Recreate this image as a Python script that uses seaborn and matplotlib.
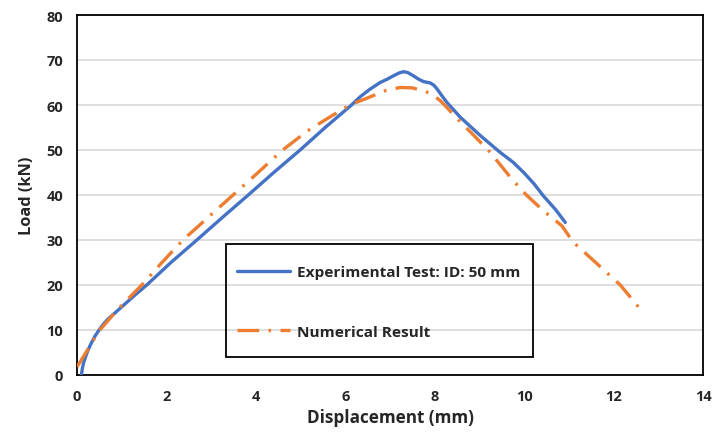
import numpy as np
import pandas as pd
import matplotlib
matplotlib.use("Agg")
import matplotlib.pyplot as plt
from matplotlib.patches import Rectangle
import seaborn as sns

# Experimental test (ID: 50 mm)
exp_disp = [0.10, 0.12, 0.15, 0.20, 0.25, 0.30, 0.40, 0.50, 0.60, 0.70, 0.85, 1.03,
            1.30, 1.56, 2.10, 2.68, 3.25, 3.83, 4.40, 4.99, 5.55, 6.14, 6.33, 6.55,
            6.78, 6.95, 7.08, 7.20, 7.30, 7.40, 7.52, 7.63, 7.75, 7.90, 7.98, 8.05,
            8.15, 8.27, 8.57, 9.02, 9.46, 9.75, 9.99, 10.22, 10.43, 10.70, 10.92]
exp_load = [0.0, 1.5, 2.8, 4.3, 5.6, 6.7, 8.6, 10.1, 11.4, 12.5, 13.8, 15.4,
            17.8, 20.0, 25.0, 30.0, 35.0, 40.0, 45.0, 50.0, 55.0, 60.0, 61.8, 63.5,
            65.0, 65.8, 66.5, 67.1, 67.4, 67.2, 66.5, 65.8, 65.2, 64.9, 64.4, 63.6,
            62.2, 60.6, 57.3, 53.2, 49.5, 47.3, 45.0, 42.5, 39.8, 36.8, 33.9]

# Numerical result
num_disp = [0.00, 0.10, 0.20, 0.35, 0.51, 0.95, 1.45, 1.90, 2.37, 2.93, 3.49, 4.05,
            4.60, 5.15, 5.60, 6.10, 6.48, 6.90, 7.23, 7.50, 7.75, 7.95, 8.12, 8.19,
            8.55, 8.87, 9.24, 9.72, 10.05, 10.43, 10.84, 11.10, 11.60, 12.15, 12.65]
num_load = [1.8, 3.4, 5.0, 7.5, 10.0, 15.0, 20.0, 25.0, 30.0, 35.0, 40.0, 45.0,
            50.0, 54.2, 57.0, 60.0, 61.5, 63.2, 63.9, 63.8, 63.2, 62.3, 61.0, 60.3,
            56.5, 53.3, 49.5, 43.6, 40.0, 36.5, 33.2, 29.5, 25.0, 20.0, 14.0]

x_ticks = [0, 2, 4, 6, 8, 10, 12, 14]
y_ticks = [0, 10, 20, 30, 40, 50, 60, 70, 80]

sns.set_theme(style="white")
plt.rcParams['font.family'] = ['Open Sans', 'DejaVu Sans']

W, H = 714, 435
fig = plt.figure(figsize=(W / 100, H / 100), dpi=100)
ax = fig.add_axes([77/W, 1 - 376/H, (703 - 77)/W, (376 - 16)/H])

df_exp = pd.DataFrame({"x": exp_disp, "y": exp_load})
df_num = pd.DataFrame({"x": num_disp, "y": num_load})

sns.lineplot(data=df_exp, x="x", y="y", ax=ax, sort=False, color="#4472C4",
             linewidth=2.4, label="Experimental Test: ID: 50 mm", zorder=3)
sns.lineplot(data=df_num, x="x", y="y", ax=ax, sort=False, color="#ED7D31",
             linewidth=2.4, label="Numerical Result", zorder=4)
ax.lines[0].set_solid_joinstyle("round")
ax.lines[0].set_solid_capstyle("round")
ax.lines[1].set_dashes((6.5, 2.8, 0.8, 2.8))

ax.set_xlim(0, 14)
ax.set_ylim(0, 80)
ax.set_xticks(x_ticks)
ax.set_yticks(y_ticks)
ax.set_xticklabels([str(t) for t in x_ticks], fontsize=10.5, fontweight="bold")
ax.set_yticklabels([str(t) for t in y_ticks], fontsize=10.5, fontweight="bold")
ax.tick_params(axis="both", length=0, pad=10)
ax.yaxis.grid(True, color="#D9D9D9", linewidth=1.2)
ax.xaxis.grid(False)
ax.set_axisbelow(True)
for s in ax.spines.values():
    s.set_color("black")
    s.set_linewidth(1.3)

ax.set_xlabel("Displacement (mm)", fontsize=12.3, fontweight="bold", labelpad=4)
ax.set_ylabel("Load (kN)", fontsize=11.8, fontweight="bold", labelpad=8)

# legend (transparent, gridlines show through) with a separate outline box
leg = ax.legend(loc="center left", bbox_to_anchor=(237/W, 1 - 303/H),
                bbox_transform=fig.transFigure, borderaxespad=0, borderpad=0,
                frameon=False, handlelength=3.44, handletextpad=0.45,
                labelspacing=2.93, prop={"weight": "bold", "size": 11.1})
box = Rectangle((226/W, 1 - 358/H), 307/W, 113/H, transform=fig.transFigure,
                fill=False, edgecolor="black", linewidth=1.3, zorder=6)
fig.patches.append(box)

fig.savefig("out.png", dpi=100)
